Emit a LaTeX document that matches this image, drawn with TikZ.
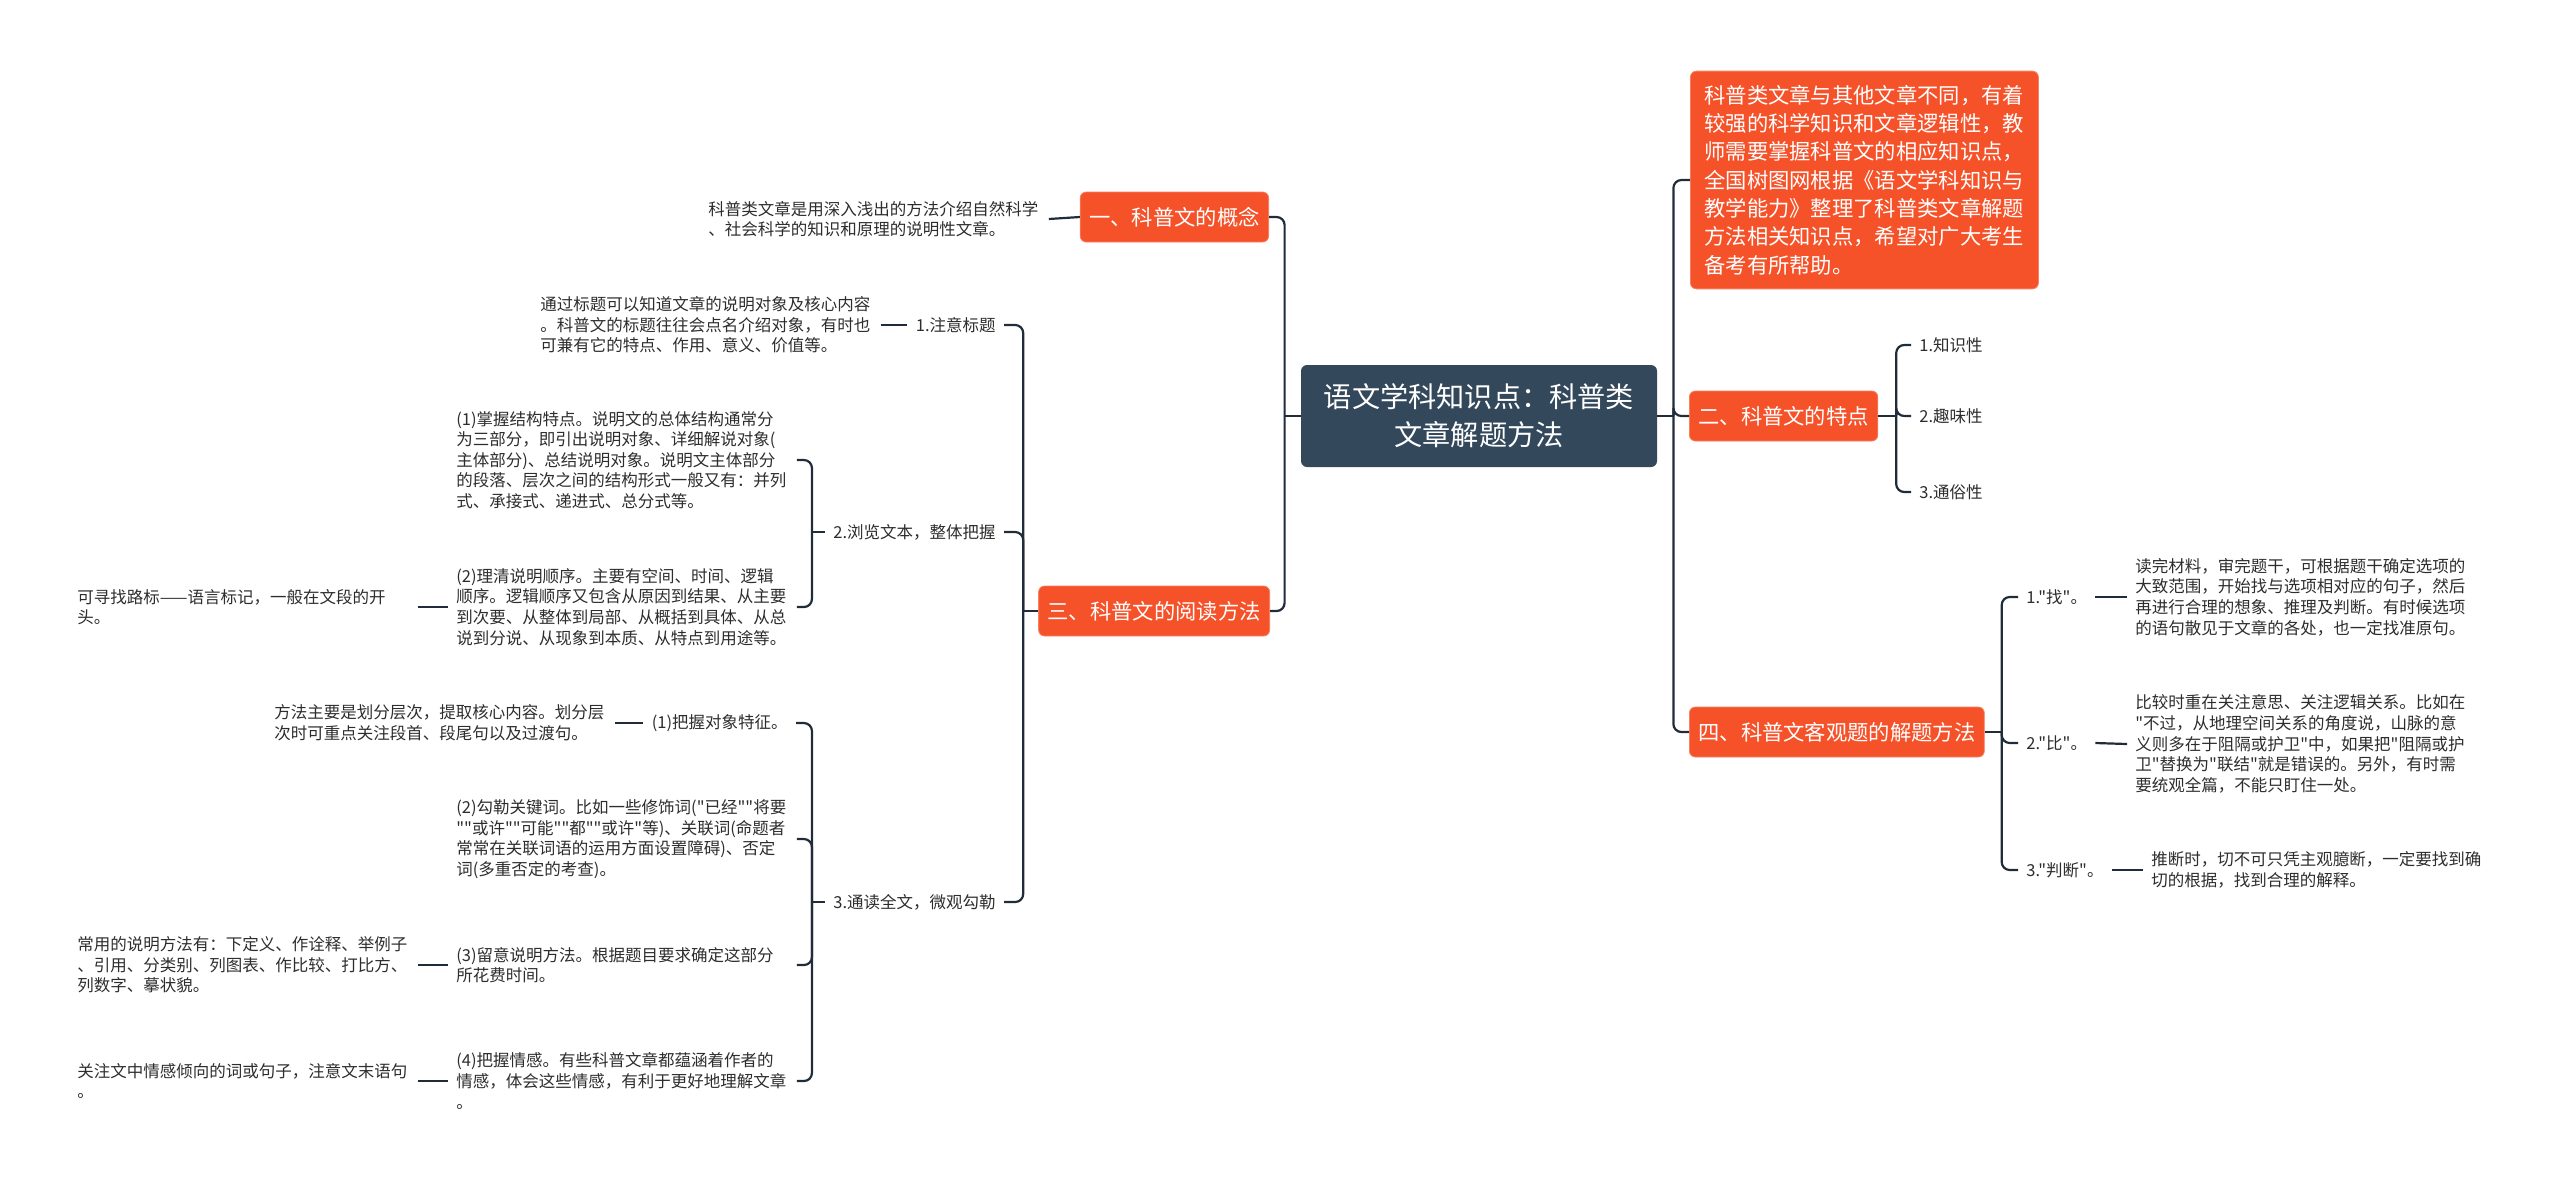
\documentclass[tikz,border=0pt]{standalone}
\usepackage{fontspec}
\setmainfont{Noto Sans CJK SC}[Ligatures=TeXOff]
\definecolor{hubc}{RGB}{52,72,92}
\definecolor{topicc}{RGB}{245,82,42}
\definecolor{topicb}{RGB}{248,128,98}
\definecolor{linkc}{RGB}{32,44,58}
\definecolor{txtc}{RGB}{45,45,45}
\newcommand{\leaffont}{\fontsize{8.25}{10.3}\selectfont}
\newcommand{\topicfont}{\fontsize{10.65}{14.15}\selectfont}
\newcommand{\hubfont}{\fontsize{14.1}{19}\selectfont}
\begin{document}
\begin{tikzpicture}[x=0.5pt, y=-0.5pt,
  hub/.style={fill=hubc, text=white, rounded corners=3pt, align=center,
              minimum width=178pt, minimum height=51pt, font=\hubfont},
  topic/.style={fill=topicc, draw=topicb, line width=0.4pt, text=white, rounded corners=3pt,
                inner xsep=4.5pt, minimum height=25pt, font=\topicfont},
  note/.style={topic, align=left, text width=160pt, inner xsep=7pt, inner ysep=7pt},
  lab/.style={font=\leaffont, text=txtc, inner xsep=4pt, inner ysep=2pt},
  leaf/.style={lab, align=left, text width=166pt},
  link/.style={draw=linkc, line width=1.1pt, rounded corners=4pt},
]
  \useasboundingbox (0,0) rectangle (2560,1191);

  \node[hub] (main) at (1479,416) {语文学科知识点：科普类\\文章解题方法};

  \node[note, anchor=west] (intro) at (1690,180) {科普类文章与其他文章不同，有着\\较强的科学知识和文章逻辑性，教\\师需要掌握科普文的相应知识点，\\全国树图网根据《语文学科知识与\\教学能力》整理了科普类文章解题\\方法相关知识点，希望对广大考生\\备考有所帮助。};
  \node[topic, anchor=west] (feat) at (1689,416) {二、科普文的特点};
  \node[topic, anchor=west] (solve) at (1689,732) {四、科普文客观题的解题方法};

  \node[lab, anchor=west] (f1) at (1911,345) {1.知识性};
  \node[lab, anchor=west] (f2) at (1911,416) {2.趣味性};
  \node[lab, anchor=west] (f3) at (1911,492) {3.通俗性};

  \node[lab, anchor=west] (s1) at (2018,597) {1."找"。};
  \node[lab, anchor=west] (s2) at (2018,743) {2."比"。};
  \node[lab, anchor=west] (s3) at (2018,870) {3."判断"。};
  \node[leaf, anchor=west] (s1t) at (2127,597) {读完材料，审完题干，可根据题干确定选项的\\大致范围，开始找与选项相对应的句子，然后\\再进行合理的想象、推理及判断。有时候选项\\的语句散见于文章的各处，也一定找准原句。};
  \node[leaf, anchor=west] (s2t) at (2127,744) {比较时重在关注意思、关注逻辑关系。比如在\\"不过，从地理空间关系的角度说，山脉的意\\义则多在于阻隔或护卫"中，如果把"阻隔或护\\卫"替换为"联结"就是错误的。另外，有时需\\要统观全篇，不能只盯住一处。};
  \node[leaf, anchor=west] (s3t) at (2143,870) {推断时，切不可只凭主观臆断，一定要找到确\\切的根据，找到合理的解释。};

  \node[topic, anchor=east] (concept) at (1269,217) {一、科普文的概念};
  \node[topic, anchor=east] (read) at (1270,611) {三、科普文的阅读方法};
  \node[leaf, anchor=west] (concept1) at (700,219) {科普类文章是用深入浅出的方法介绍自然科学\\、社会科学的知识和原理的说明性文章。};

  \node[lab, anchor=east] (r1) at (1004,325) {1.注意标题};
  \node[lab, anchor=east] (r2) at (1004,532) {2.浏览文本，整体把握};
  \node[lab, anchor=east] (r3) at (1004,902) {3.通读全文，微观勾勒};
  \node[leaf, anchor=west] (r1t) at (532,325) {通过标题可以知道文章的说明对象及核心内容\\。科普文的标题往往会点名介绍对象，有时也\\可兼有它的特点、作用、意义、价值等。};

  \node[leaf, anchor=west] (r21) at (448,460) {(1)掌握结构特点。说明文的总体结构通常分\\为三部分，即引出说明对象、详细解说对象(\\主体部分)、总结说明对象。说明文主体部分\\的段落、层次之间的结构形式一般又有：并列\\式、承接式、递进式、总分式等。};
  \node[leaf, anchor=west] (r22) at (448,607) {(2)理清说明顺序。主要有空间、时间、逻辑\\顺序。逻辑顺序又包含从原因到结果、从主要\\到次要、从整体到局部、从概括到具体、从总\\说到分说、从现象到本质、从特点到用途等。};
  \node[leaf, anchor=west] (r22t) at (69,607) {可寻找路标——语言标记，一般在文段的开\\头。};

  \node[lab, anchor=east] (r31) at (796,723) {(1)把握对象特征。};
  \node[leaf, anchor=west] (r31t) at (266,723) {方法主要是划分层次，提取核心内容。划分层\\次时可重点关注段首、段尾句以及过渡句。};
  \node[leaf, anchor=west] (r32) at (448,839) {(2)勾勒关键词。比如一些修饰词("已经""将要\\""或许""可能""都""或许"等)、关联词(命题者\\常常在关联词语的运用方面设置障碍)、否定\\词(多重否定的考查)。};
  \node[leaf, anchor=west] (r33) at (448,965) {(3)留意说明方法。根据题目要求确定这部分\\所花费时间。};
  \node[leaf, anchor=west] (r33t) at (69,965) {常用的说明方法有：下定义、作诠释、举例子\\、引用、分类别、列图表、作比较、打比方、\\列数字、摹状貌。};
  \node[leaf, anchor=west] (r34) at (448,1081) {(4)把握情感。有些科普文章都蕴涵着作者的\\情感，体会这些情感，有利于更好地理解文章\\。};
  \node[leaf, anchor=west] (r34t) at (69,1081) {关注文中情感倾向的词或句子，注意文末语句\\。};

  \draw[link] (main.east) -- ++(16,0) coordinate (jr);
  \foreach \n in {intro,feat,solve} \draw[link] (jr) |- (\n.west);
  \draw[link] (feat.east) -- ++(18,0) coordinate (jf);
  \foreach \n in {f1,f2,f3} \draw[link] (jf) |- (\n.west);
  \draw[link] (solve.east) -- ++(17,0) coordinate (js);
  \foreach \n in {s1,s2,s3} \draw[link] (js) |- (\n.west);
  \foreach \n in {s1,s2,s3} \draw[link] (\n.east) -- (\n t.west);

  \draw[link] (main.west) -- ++(-16,0) coordinate (jl);
  \foreach \n in {concept,read} \draw[link] (jl) |- (\n.east);
  \draw[link] (concept1.east) -- (concept.west);
  \draw[link] (read.west) -- ++(-15,0) coordinate (jm);
  \foreach \n in {r1,r2,r3} \draw[link] (jm) |- (\n.east);
  \draw[link] (r1t.east) -- (r1.west);
  \draw[link] (r2.west) -- ++(-13,0) coordinate (jb);
  \foreach \n in {r21,r22} \draw[link] (jb) |- (\n.east);
  \draw[link] (r22t.east) -- (r22.west);
  \draw[link] (r3.west) -- ++(-13,0) coordinate (jc);
  \foreach \n in {r31,r32,r33,r34} \draw[link] (jc) |- (\n.east);
  \draw[link] (r31t.east) -- (r31.west);
  \draw[link] (r33t.east) -- (r33.west);
  \draw[link] (r34t.east) -- (r34.west);
\end{tikzpicture}
\end{document}
